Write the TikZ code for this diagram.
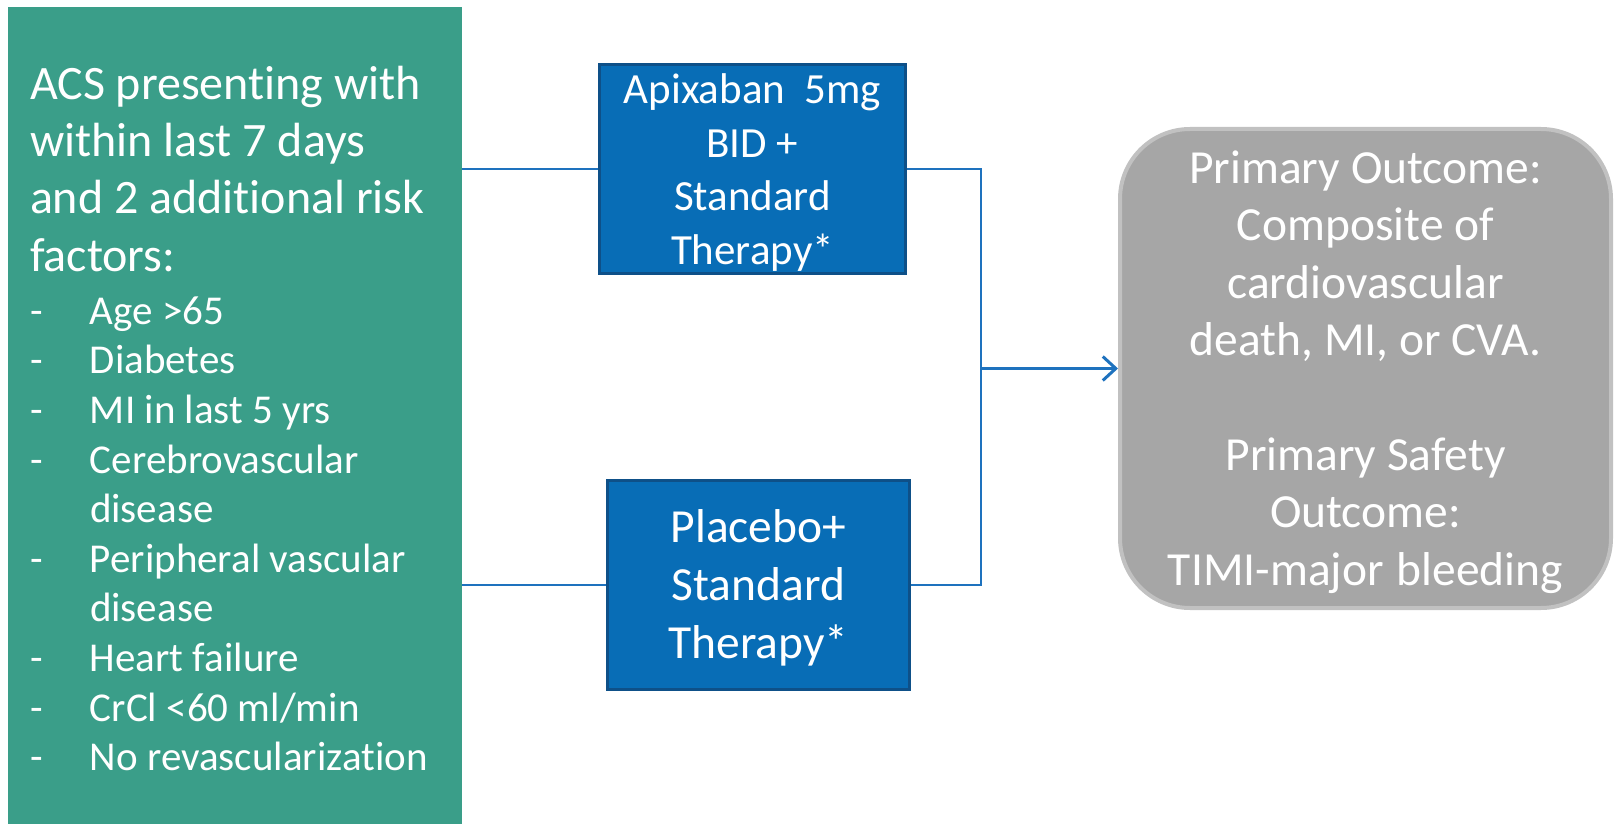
\documentclass[tikz,border=0pt]{standalone}
\usepackage{fontspec}
\setmainfont{Carlito}[Ligatures={NoCommon,NoContextual},Contextuals={NoAlternate}]
\usetikzlibrary{arrows.meta}
\setlength{\parindent}{0pt}
\definecolor{popgreen}{RGB}{58,158,137}
\definecolor{armblue}{RGB}{8,109,182}
\definecolor{armedge}{RGB}{14,80,136}
\definecolor{outgray}{RGB}{166,166,166}
\definecolor{outedge}{RGB}{193,193,193}
\definecolor{connblue}{RGB}{30,114,190}
\newcommand\lstitem[1]{\makebox[60pt][l]{-}#1}
\newcommand\natL{\spaceskip=0pt\xspaceskip=0pt\leftskip=0pt\rightskip=0pt plus 1fil\parfillskip=0pt plus 1fil\relax}
\newcommand\natC{\spaceskip=0pt\xspaceskip=0pt\leftskip=0pt plus 1fil\rightskip=0pt plus 1fil\parfillskip=0pt\relax}
\begin{document}
\begin{tikzpicture}[x=1pt,y=-1pt,
  popbox/.style={fill=popgreen, draw=none, minimum width=454pt, minimum height=823pt,
    inner xsep=22pt, inner ysep=0pt, text width=410pt, align=left, text=white,
    font=\fontsize{48}{57.3}\selectfont},
  armbox/.style={fill=armblue, draw=armedge, line width=3pt, inner sep=0pt,
    align=center, text=white},
  outbox/.style={fill=outgray, draw=outedge, line width=4pt, rounded corners=70pt,
    inner sep=0pt, align=center, text=white},
  conn/.style={draw=connblue, line width=2pt},
  arr/.style={draw=connblue, line width=3pt, -{Straight Barb[length=13pt,width=24pt,line width=3pt]}}
]
\useasboundingbox (0,0) rectangle (1615,824);

\node[popbox] (pop) at (235,418.5) {\natL
ACS presenting with\\
within last 7 days\\
and 2 additional risk\\
factors:\par
\vspace{3.4pt}%
\fontsize{41}{49.6}\selectfont\natL
\lstitem{Age >65}\\
\lstitem{Diabetes}\\
\lstitem{MI in last 5 yrs}\\
\lstitem{Cerebrovascular}\\
\hspace*{60pt}disease\\
\lstitem{Peripheral vascular}\\
\hspace*{60pt}disease\\
\lstitem{Heart failure}\\
\lstitem{CrCl <60 ml/min}\\
\lstitem{No revascularization}\par};

\node[armbox, minimum width=306pt, minimum height=209pt, text width=300pt,
  font=\fontsize{43}{53.5}\selectfont] (apix) at (752.5,169)
  {\natC\rule{0pt}{37pt}Apixaban\ \ 5mg\\ BID +\\ Standard\\ Therapy*};

\node[armbox, minimum width=302pt, minimum height=209pt, text width=296pt,
  font=\fontsize{47.5}{58}\selectfont] (plac) at (758.5,585)
  {\natC\rule{0pt}{38pt}Placebo+\\ Standard\\ Therapy*};

\node[outbox, minimum width=491pt, minimum height=479pt, text width=470pt,
  font=\fontsize{47.5}{57.4}\selectfont] (out) at (1365.5,368.5)
  {\natC\rule{0pt}{40pt}Primary Outcome:\\ Composite of\\ cardiovascular\\ death, MI, or CVA.\\[57.4pt]
   Primary Safety\\ Outcome:\\ TIMI-major bleeding};

\coordinate (j) at (981,368.5);
\draw[conn] (apix.west -| pop.east) -- (apix.west);
\draw[conn] (plac.west -| pop.east) -- (plac.west);
\draw[conn] (apix.east) -| (j) |- (plac.east);
\draw[arr] (j) -- (out.west);
\end{tikzpicture}
\end{document}
